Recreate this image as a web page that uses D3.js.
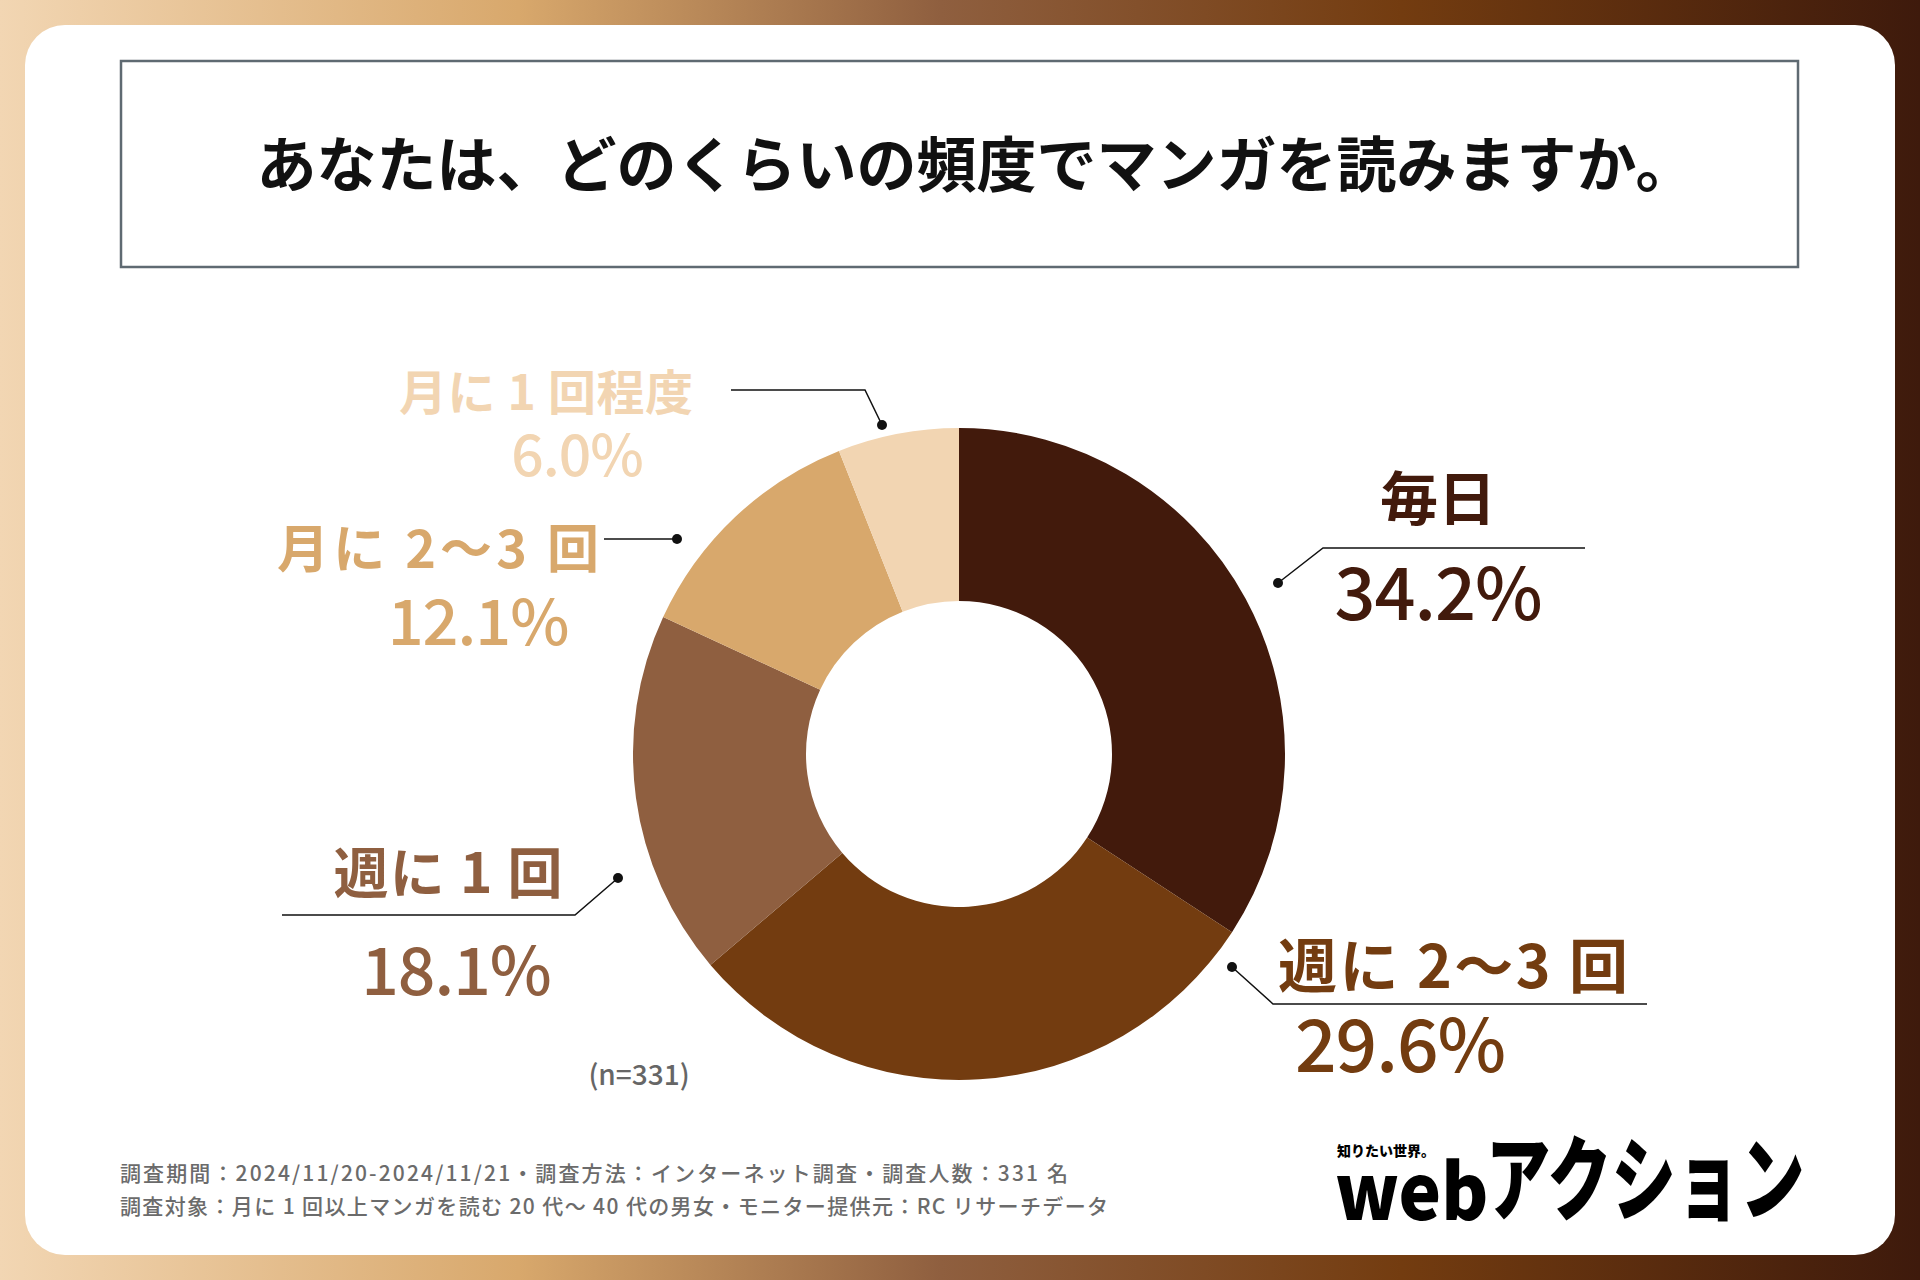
<!DOCTYPE html>
<html>
<head>
<meta charset="utf-8">
<script src="https://cdn.jsdelivr.net/npm/d3@7"></script>
<style>
  body { margin: 0; background: #fff; }
  svg { display: block; }
  text { font-family: "Noto Sans CJK JP", "Noto Sans", sans-serif; }
</style>
</head>
<body>
<div id="chart"></div>
<script>
// data
const categories = ["毎日", "週に 2〜3 回", "週に 1 回", "月に 2〜3 回", "月に 1 回程度"]
const shares = [34.2, 29.6, 18.1, 12.1, 6.0]
const sampleSize = 331
const titleText = "あなたは、どのくらいの頻度でマンガを読みますか。"
const footnotes = [
    "調査期間：2024/11/20-2024/11/21・調査方法：インターネット調査・調査人数：331 名",
    "調査対象：月に 1 回以上マンガを読む 20 代〜 40 代の男女・モニター提供元：RC リサーチデータ"
]

// styles / layout (offsets from the pie centre)
const sliceColors = ["#421a0c", "#733c10", "#8f5f40", "#d8a86c", "#f2d5b2"]
const labelLayout = [
    { nx: 479, ny: -234, ns: 58, nw: null, px: 479, py: -134, ps: 72, line: [[319, -171], [364, -206], [626, -206]] },
    { nx: 494, ny: 234, ns: 59, nw: 350, px: 441, py: 318, ps: 73, line: [[273, 213], [314, 250], [688, 250]] },
    { nx: -511, ny: 139, ns: 55, nw: 229, px: -503, py: 241, ps: 66, line: [[-341, 124], [-384, 161], [-677, 161]] },
    { nx: -521, ny: -186, ns: 52, nw: 322, px: -481, py: -109, ps: 63, line: [[-282, -215], [-355, -215]] },
    { nx: -413, ny: -344, ns: 48, nw: 294, px: -382, py: -278, ps: 57, line: [[-77, -329], [-94, -364], [-228, -364]] }
]

const dimensions = { width: 1920, height: 1280 }
const center = { x: 959, y: 754 }
const outerRadius = 326
const innerRadius = 153

const svg = d3.select('#chart')
    .append('svg')
    .attr('width', dimensions.width)
    .attr('height', dimensions.height)

const defs = svg.append('defs')
const bgGradient = defs.append('linearGradient')
    .attr('id', 'bg-gradient')
bgGradient.selectAll('stop')
    .data([["0%", "#f2d6b3"], ["27%", "#d8a86c"], ["49%", "#8f5f3f"], ["73%", "#733c10"], ["100%", "#3e1a0c"]])
    .enter().append('stop')
    .attr('offset', d => d[0])
    .attr('stop-color', d => d[1])

svg.append('rect')
    .attr('width', dimensions.width)
    .attr('height', dimensions.height)
    .attr('fill', 'url(#bg-gradient)')

// white card
svg.append('rect')
    .attr('x', 25)
    .attr('y', 25)
    .attr('width', 1870)
    .attr('height', 1230)
    .attr('rx', 40)
    .attr('fill', '#fff')

// title box
svg.append('rect')
    .attr('x', 121)
    .attr('y', 61)
    .attr('width', 1677)
    .attr('height', 206)
    .attr('fill', 'none')
    .attr('stroke', '#5f6a72')
    .attr('stroke-width', 2.5)

svg.append('text')
    .attr('x', 976)
    .attr('y', 187)
    .attr('text-anchor', 'middle')
    .attr('font-size', 60)
    .attr('font-weight', 700)
    .attr('fill', '#111')
    .text(titleText)

// donut
const pie = d3.pie().sort(null).value(d => d)
const arcs = pie(shares)
const arcGenerator = d3.arc()
    .innerRadius(innerRadius)
    .outerRadius(outerRadius)

const bounds = svg.append('g')
    .attr('transform', `translate(${center.x}, ${center.y})`)

bounds.selectAll('.slice')
    .data(arcs)
    .enter().append('path')
    .attr('class', 'slice')
    .attr('d', arcGenerator)
    .attr('fill', (d, i) => sliceColors[i])

// labels
const labelGroups = bounds.selectAll('.label')
    .data(arcs)
    .enter().append('g')
    .attr('class', 'label')

labelGroups.append('path')
    .attr('d', (d, i) => d3.line()(labelLayout[i].line))
    .attr('fill', 'none')
    .attr('stroke', '#111')
    .attr('stroke-width', 1.5)

labelGroups.append('circle')
    .attr('cx', (d, i) => labelLayout[i].line[0][0])
    .attr('cy', (d, i) => labelLayout[i].line[0][1])
    .attr('r', 5)
    .attr('fill', '#111')

const nameTexts = labelGroups.append('text')
    .attr('x', (d, i) => labelLayout[i].nx)
    .attr('y', (d, i) => labelLayout[i].ny)
    .attr('text-anchor', 'middle')
    .attr('font-size', (d, i) => labelLayout[i].ns)
    .attr('font-weight', 700)
    .attr('fill', (d, i) => sliceColors[i])
    .text((d, i) => categories[i])

nameTexts.filter((d, i) => labelLayout[i].nw)
    .attr('textLength', function () {
        const i = arcs.indexOf(d3.select(this).datum())
        return labelLayout[i].nw
    })
    .attr('lengthAdjust', 'spacing')

labelGroups.append('text')
    .attr('x', (d, i) => labelLayout[i].px)
    .attr('y', (d, i) => labelLayout[i].py)
    .attr('text-anchor', 'middle')
    .attr('font-size', (d, i) => labelLayout[i].ps)
    .attr('font-weight', 500)
    .attr('letter-spacing', -1)
    .attr('fill', (d, i) => sliceColors[i])
    .text(d => `${d3.format('.1f')(d.data)}%`)

svg.append('text')
    .attr('x', 639)
    .attr('y', 1085)
    .attr('text-anchor', 'middle')
    .attr('font-size', 28)
    .attr('font-weight', 500)
    .attr('fill', '#666')
    .text(`(n=${sampleSize})`)

// footer
const footWidths = [948, 988]
svg.selectAll('.footnote')
    .data(footnotes)
    .enter().append('text')
    .attr('class', 'footnote')
    .attr('x', 120)
    .attr('y', (d, i) => 1181 + i * 33)
    .attr('font-size', 21)
    .attr('font-weight', 500)
    .attr('fill', '#6b6b6b')
    .attr('textLength', (d, i) => footWidths[i])
    .attr('lengthAdjust', 'spacing')
    .text(d => d)

// logo
const logo = svg.append('g')
logo.append('text')
    .attr('x', 1337)
    .attr('y', 1156)
    .attr('font-size', 14)
    .attr('font-weight', 900)
    .attr('fill', '#000')
    .text('知りたい世界。')
logo.append('text')
    .attr('transform', 'translate(1335, 1220) scale(0.92, 1)')
    .attr('font-size', 78)
    .attr('font-weight', 900)
    .attr('fill', '#000')
    .text('web')
logo.append('text')
    .attr('transform', 'translate(1486, 1213) scale(0.7, 1)')
    .attr('font-size', 92)
    .attr('font-weight', 900)
    .attr('fill', '#000')
    .text('アクション')
</script>
</body>
</html>
